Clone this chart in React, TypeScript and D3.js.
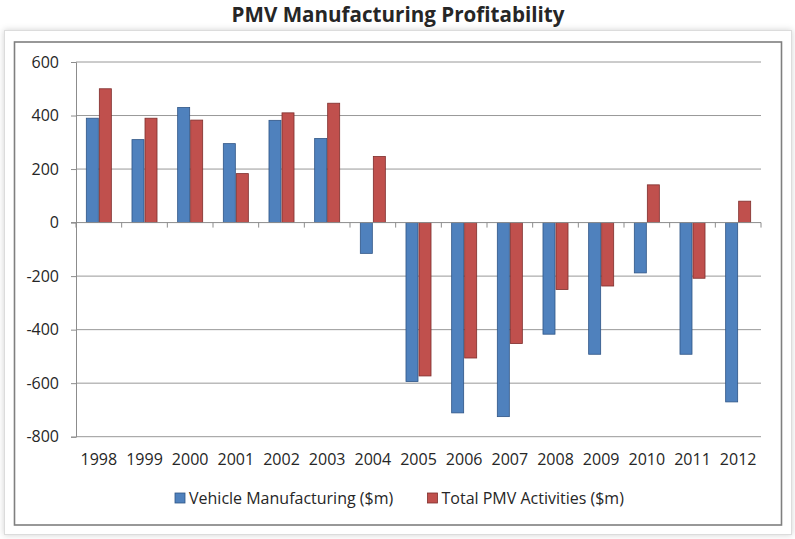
import * as React from "react";
import * as d3 from "d3";

const years = [
  "1998", "1999", "2000", "2001", "2002", "2003", "2004", "2005",
  "2006", "2007", "2008", "2009", "2010", "2011", "2012",
];
const vehicleManufacturing = [
  390, 310, 430, 295, 382, 314, -115, -594, -711, -725, -417, -492, -188, -492, -670,
];
const totalPmvActivities = [
  500, 390, 383, 183, 410, 446, 247, -573, -506, -452, -250, -237, 141, -208, 80,
];
const yTicks = [600, 400, 200, 0, -200, -400, -600, -800];
const seriesNames = ["Vehicle Manufacturing ($m)", "Total PMV Activities ($m)"];
const seriesColors = ["#4F81BD", "#C0504D"];
const seriesStrokes = ["#2F5586", "#7E2E2C"];

const W = 795;
const H = 539;
const FONT = "'Open Sans', sans-serif";

export default function App() {
  const ref = React.useRef<SVGSVGElement>(null);

  React.useEffect(() => {
    if (!ref.current) return;
    const svg = d3.select(ref.current);
    svg.selectAll("*").remove();

    const left = 76,
      right = 761,
      top = 62,
      bottom = 436.7;

    const defs = svg.append("defs");
    const shadow = defs
      .append("filter")
      .attr("id", "shadow")
      .attr("x", "-5%")
      .attr("y", "-5%")
      .attr("width", "110%")
      .attr("height", "110%");
    shadow
      .append("feDropShadow")
      .attr("dx", 0)
      .attr("dy", 0)
      .attr("stdDeviation", 3)
      .attr("flood-color", "#000")
      .attr("flood-opacity", 0.18);

    svg.append("rect").attr("width", W).attr("height", H).attr("fill", "#fff");

    // title
    svg
      .append("text")
      .attr("x", 398)
      .attr("y", 22)
      .attr("text-anchor", "middle")
      .attr("font-family", FONT)
      .attr("font-weight", "bold")
      .attr("font-size", 20.6)
      .attr("fill", "#262626")
      .text("PMV Manufacturing Profitability");

    // outer frame + inner chart border
    svg
      .append("rect")
      .attr("x", 4.5)
      .attr("y", 30.5)
      .attr("width", 787)
      .attr("height", 504)
      .attr("fill", "#fff")
      .attr("stroke", "#dcdcdc")
      .attr("filter", "url(#shadow)");
    svg
      .append("rect")
      .attr("x", 14.5)
      .attr("y", 42)
      .attr("width", 767)
      .attr("height", 483)
      .attr("fill", "#fff")
      .attr("stroke", "#7f7f7f")
      .attr("stroke-width", 1.6);

    const y = d3.scaleLinear().domain([-800, 600]).range([bottom, top]);

    const x0 = d3
      .scaleBand<string>()
      .domain(years)
      .range([left, right])
      .paddingInner(0.43)
      .paddingOuter(0.215);
    const x1 = d3
      .scaleBand<string>()
      .domain(seriesNames)
      .range([0, x0.bandwidth()]);

    // gridlines
    svg
      .append("g")
      .selectAll("line")
      .data(yTicks.filter((t) => t !== 0))
      .enter()
      .append("line")
      .attr("x1", left)
      .attr("x2", right)
      .attr("y1", (d) => y(d))
      .attr("y2", (d) => y(d))
      .attr("stroke", "#8c8c8c")
      .attr("stroke-width", 0.9);

    // y axis
    const yAxis = svg
      .append("g")
      .attr("transform", `translate(${left},0)`)
      .call(
        d3
          .axisLeft(y)
          .tickValues(yTicks)
          .tickSize(5)
          .tickPadding(12)
          .tickFormat((d) => String(d))
      );
    yAxis.select(".domain").attr("stroke", "#8c8c8c");
    yAxis.selectAll(".tick line").attr("stroke", "#8c8c8c");
    yAxis
      .selectAll("text")
      .attr("font-family", FONT)
      .attr("font-size", 16)
      .attr("fill", "#262626");

    // bars
    const data = years.map((yr, i) => ({
      year: yr,
      values: [vehicleManufacturing[i], totalPmvActivities[i]],
    }));
    const groups = svg
      .append("g")
      .selectAll("g")
      .data(data)
      .enter()
      .append("g")
      .attr("transform", (d) => `translate(${x0(d.year)},0)`);
    groups
      .selectAll("rect")
      .data((d) => d.values.map((v, j) => ({ v, j })))
      .enter()
      .append("rect")
      .attr("x", (d) => x1(seriesNames[d.j])! + 0.5)
      .attr("width", x1.bandwidth() - 1)
      .attr("y", (d) => y(Math.max(0, d.v)))
      .attr("height", (d) => Math.abs(y(d.v) - y(0)))
      .attr("fill", (d) => seriesColors[d.j])
      .attr("stroke", (d) => seriesStrokes[d.j])
      .attr("stroke-width", 0.8);

    // zero axis with category boundary ticks
    const boundaries = d3.range(years.length + 1).map((i) => left + i * x0.step());
    svg
      .append("line")
      .attr("x1", left - 5)
      .attr("x2", right)
      .attr("y1", y(0))
      .attr("y2", y(0))
      .attr("stroke", "#8c8c8c");
    svg
      .append("g")
      .selectAll("line")
      .data(boundaries)
      .enter()
      .append("line")
      .attr("x1", (d) => d)
      .attr("x2", (d) => d)
      .attr("y1", y(0))
      .attr("y2", y(0) + 5)
      .attr("stroke", "#8c8c8c");

    // category labels at bottom
    const xAxis = svg
      .append("g")
      .attr("transform", `translate(0,${bottom})`)
      .call(d3.axisBottom(x0).tickSize(0).tickPadding(17));
    xAxis.select(".domain").remove();
    xAxis
      .selectAll("text")
      .attr("font-family", FONT)
      .attr("font-size", 16)
      .attr("fill", "#262626");

    // legend
    const legendX = [175, 427.5];
    const legend = svg
      .append("g")
      .selectAll("g")
      .data(seriesNames)
      .enter()
      .append("g")
      .attr("transform", (d, i) => `translate(${legendX[i]},493)`);
    legend
      .append("rect")
      .attr("width", 10)
      .attr("height", 10)
      .attr("fill", (d, i) => seriesColors[i])
      .attr("stroke", (d, i) => seriesStrokes[i])
      .attr("stroke-width", 0.8);
    legend
      .append("text")
      .attr("x", 14)
      .attr("y", 5)
      .attr("dy", "0.35em")
      .attr("font-family", FONT)
      .attr("font-size", 16)
      .attr("fill", "#262626")
      .text((d) => d);
  }, []);

  return (
    <svg
      ref={ref}
      width={W}
      height={H}
      style={{ position: "absolute", left: 0, top: 0 }}
    />
  );
}
